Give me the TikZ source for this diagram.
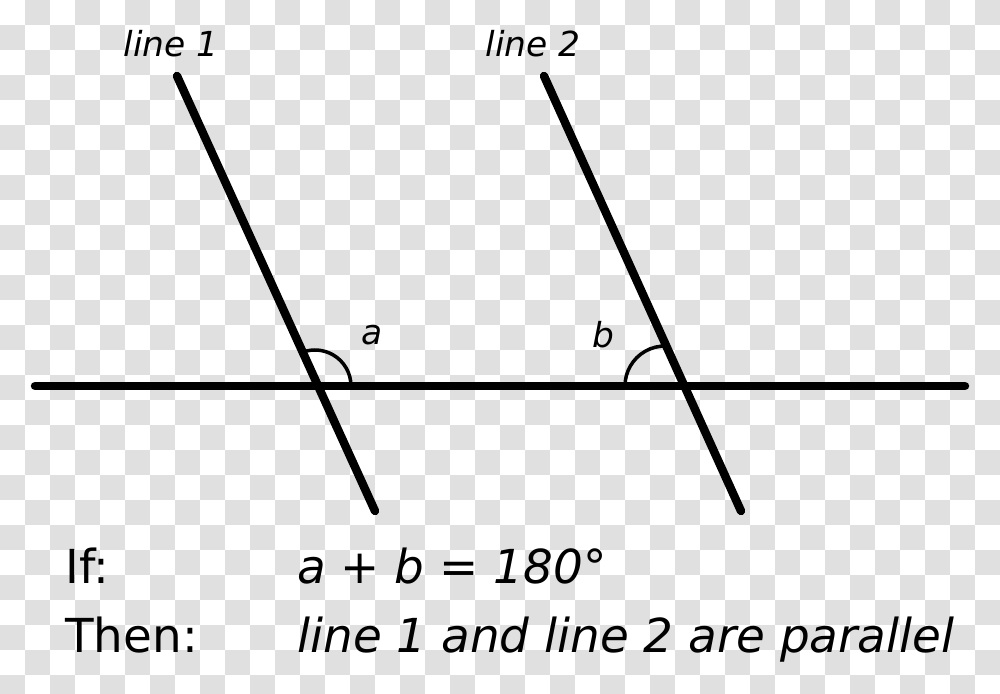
\documentclass[tikz,border=0pt]{standalone}
\usepackage{fontspec}
\setmainfont{DejaVu Sans}
\definecolor{checkgray}{RGB}{224,224,224}
\begin{document}
\begin{tikzpicture}[x=0.025cm, y=0.025cm,
		thick line/.style={line width=6pt, line cap=round},
		angle arc/.style={line width=2.5pt},
		small label/.style={inner sep=0pt, font=\fontsize{24.5}{28}\selectfont\itshape},
		big label/.style={inner sep=0pt, anchor=base west, font=\fontsize{33.3}{40}\selectfont}]
			\useasboundingbox (0,0) rectangle (1000,693);
			% checkered background
			\foreach \i [evaluate=\i as \s using {int(mod(\i,2))}] in {0,...,39}
				\foreach \j in {0,...,13}
					\fill[checkgray] ({25*\i},{693-25*(2*\j+1-\s)}) rectangle +(25,-25);
			\coordinate (hleft) at (35,307);
			\coordinate (hright) at (965,307);
			\coordinate (l1top) at (177,617);
			\coordinate (l1bot) at (375,182);
			\coordinate (l2top) at (544,617);
			\coordinate (l2bot) at (741,182);
			\coordinate (ma) at (315,307);
			\coordinate (mb) at (665,307);
			\draw[thick line] (hleft) -- (hright);
			\draw[thick line] (l1top) -- (l1bot);
			\draw[thick line] (l2top) -- (l2bot);
			\draw[angle arc] (ma) ++(36,0) arc[start angle=0, end angle=110, radius=36];
			\draw[angle arc] (mb) ++(-40,0) arc[start angle=180, end angle=88, radius=40];
			\node[small label, anchor=base] (lab1) at (171,636) {line 1};
			\node[small label, anchor=base] (lab2) at (533,636) {line 2};
			\node[small label] (anga) at (372,358) {a};
			\node[small label] (angb) at (603,358) {b};
			\node[big label] (ifword) at (65,110) {If:};
			\node[big label] (thenword) at (65,41) {Then:};
			\node[big label, font=\fontsize{33.3}{40}\selectfont\itshape] (sumtext) at (297,110) {a + b = 180°};
			\node[big label, font=\fontsize{33.3}{40}\selectfont\itshape] (restext) at (297,41) {line 1 and line 2 are parallel};
		\end{tikzpicture}
\end{document}
